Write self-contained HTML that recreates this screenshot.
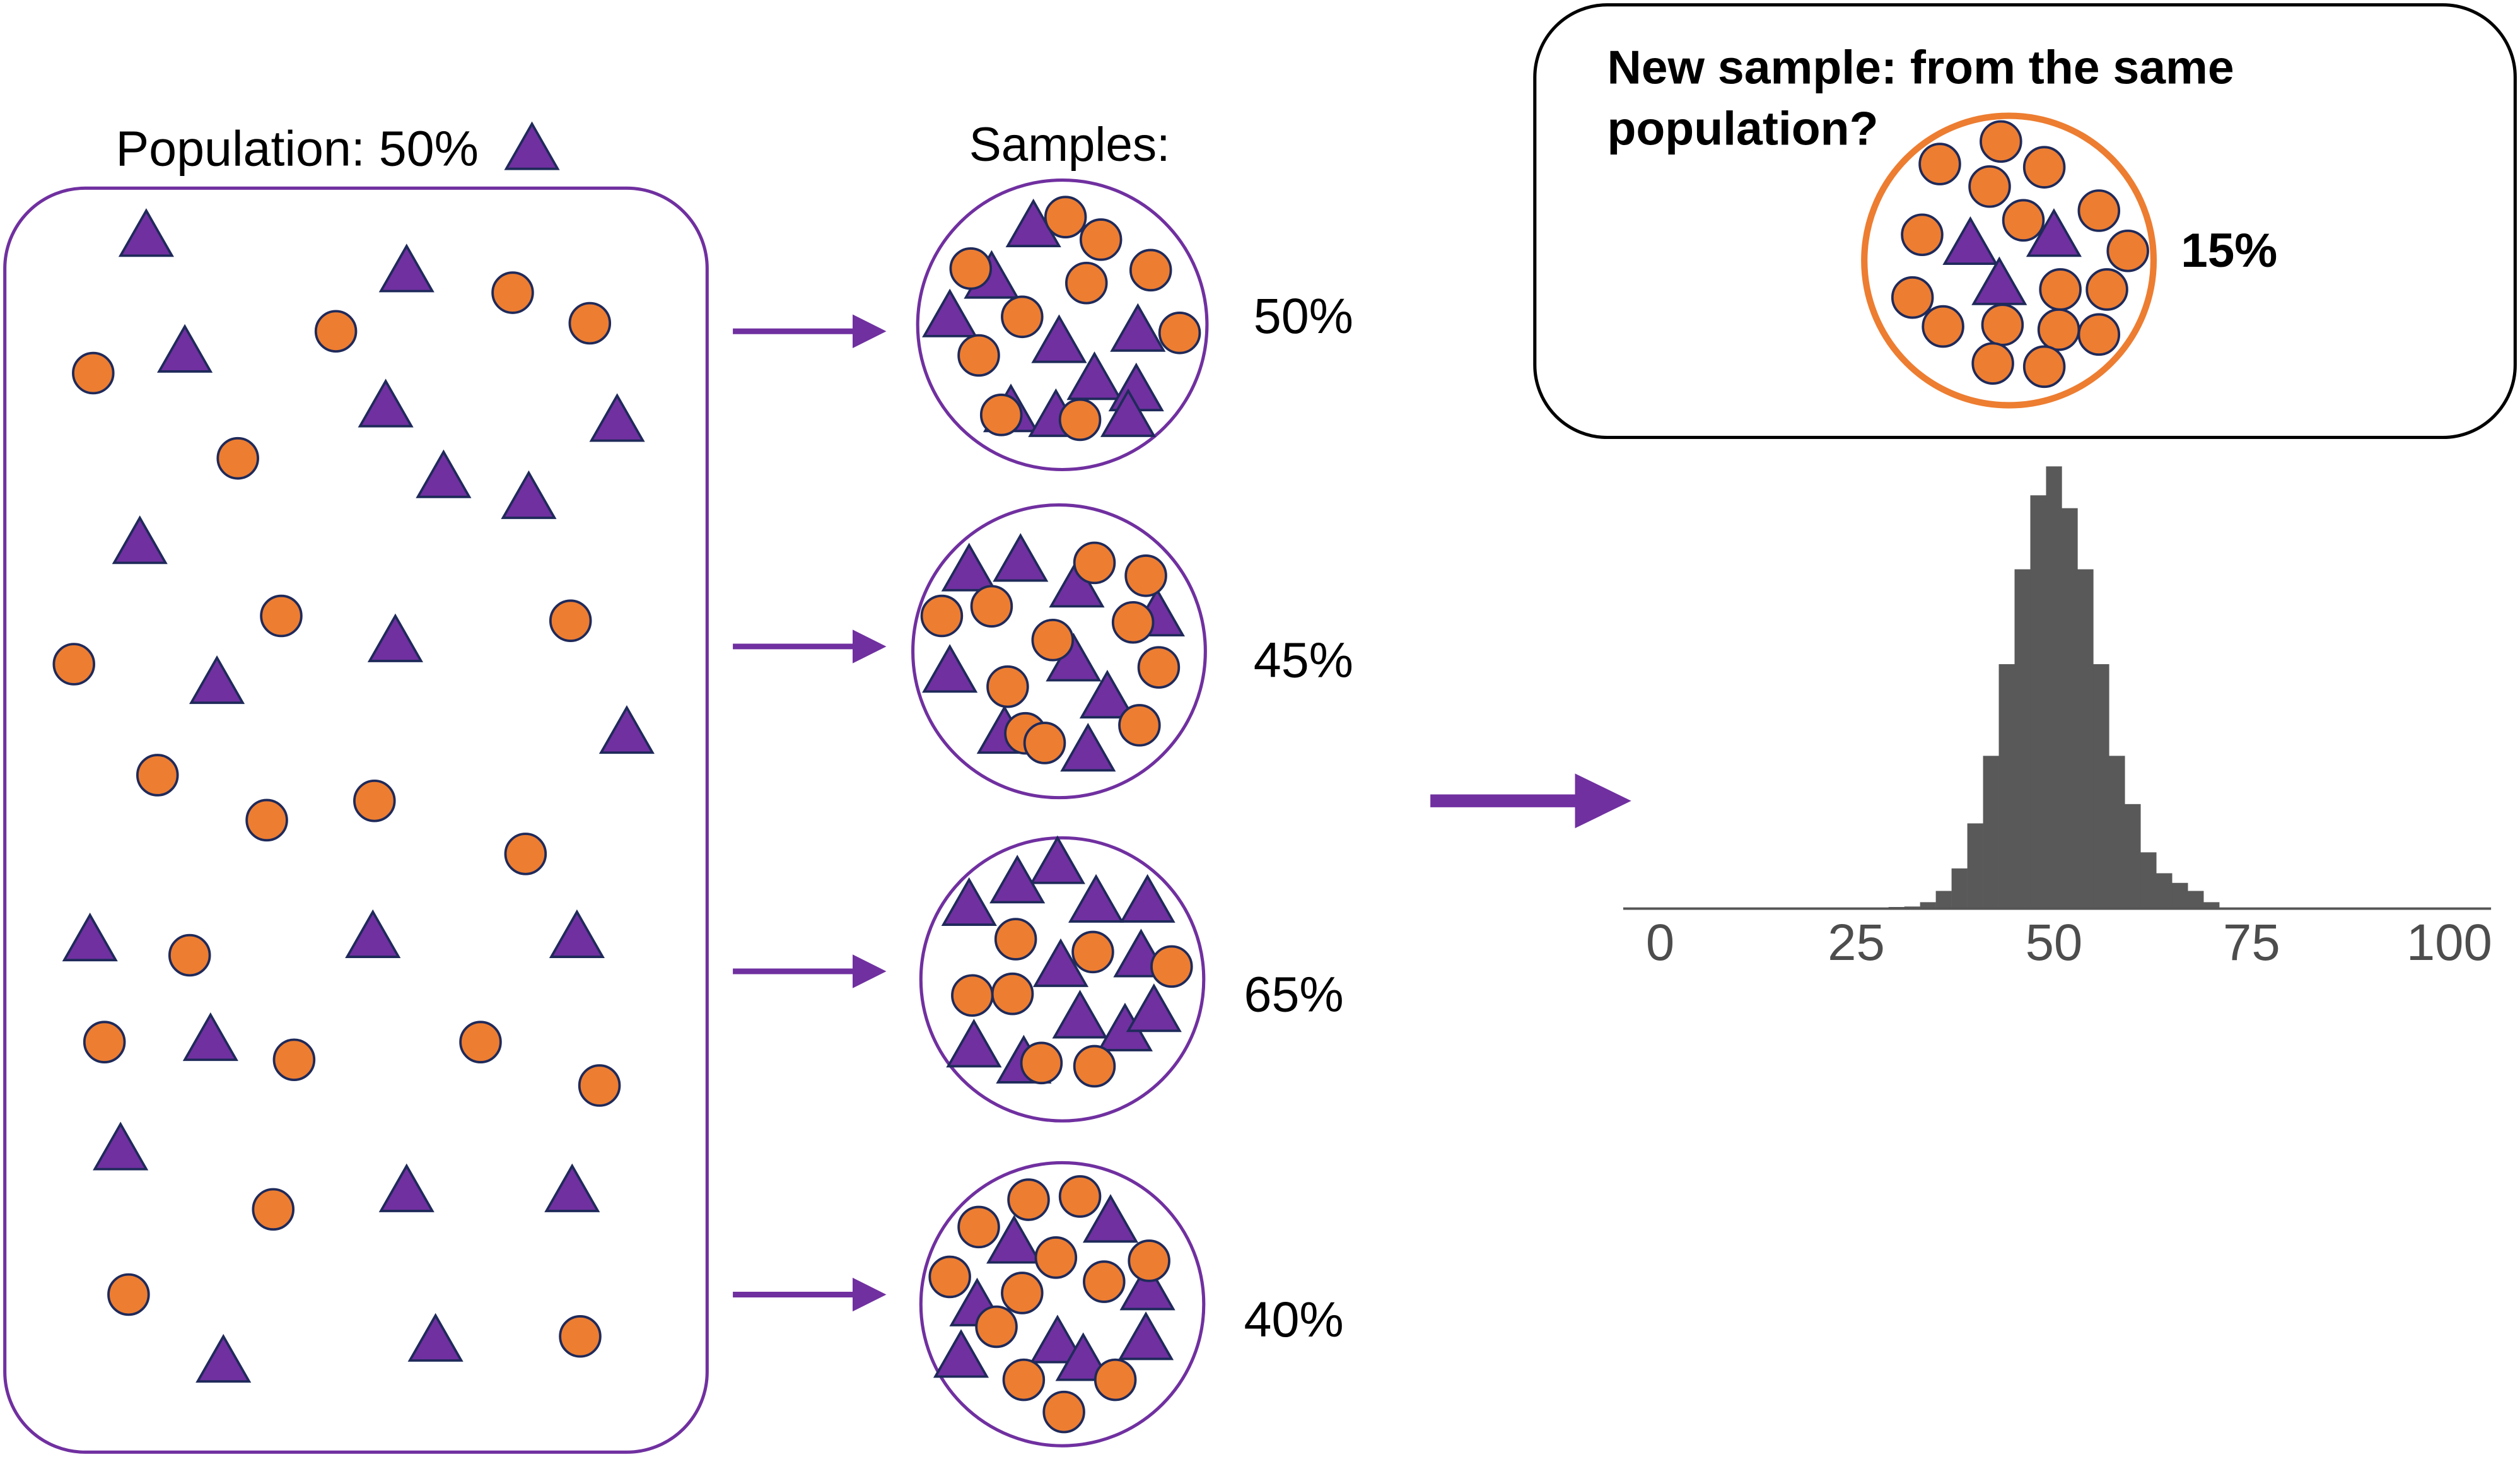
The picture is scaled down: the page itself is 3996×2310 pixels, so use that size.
<!DOCTYPE html>
<html><head><meta charset="utf-8"><style>html,body{margin:0;padding:0;background:#fff}svg{display:block}</style></head>
<body>
<svg xmlns="http://www.w3.org/2000/svg" xmlns:xlink="http://www.w3.org/1999/xlink" width="3996" height="2310" viewBox="0 0 1568 906" preserveAspectRatio="none">
<defs>
<g id="c"><circle r="12.5" fill="#ed7d31" stroke="#1f2a5a" stroke-width="1.5"/></g>
<g id="t"><polygon points="0,-15 16,13 -16,13" fill="#7030a0" stroke="#1f2a5a" stroke-width="1.5"/></g>
<marker id="ah" markerWidth="6" markerHeight="6" refX="5" refY="3" orient="auto" markerUnits="strokeWidth"><path d="M0,0 L6,3 L0,6z" fill="#7030a0"/></marker>
</defs>
<g font-family="Liberation Sans, sans-serif">
<text x="72" y="103" font-size="31">Population: 50%</text>
<use xlink:href="#t" x="331" y="92"/>
<rect x="3" y="117" width="437" height="786" rx="50" fill="none" stroke="#7030a0" stroke-width="2"/>
<g>
<use xlink:href="#t" x="91" y="146"/><use xlink:href="#t" x="253" y="168"/><use xlink:href="#t" x="115" y="218"/><use xlink:href="#t" x="240" y="252"/><use xlink:href="#t" x="384" y="261"/><use xlink:href="#t" x="276" y="296"/><use xlink:href="#t" x="329" y="309"/><use xlink:href="#t" x="87" y="337"/><use xlink:href="#t" x="246" y="398"/><use xlink:href="#t" x="135" y="424"/><use xlink:href="#t" x="390" y="455"/><use xlink:href="#t" x="56" y="584"/><use xlink:href="#t" x="232" y="582"/><use xlink:href="#t" x="359" y="582"/><use xlink:href="#t" x="131" y="646"/><use xlink:href="#t" x="75" y="714"/><use xlink:href="#t" x="253" y="740"/><use xlink:href="#t" x="356" y="740"/><use xlink:href="#t" x="139" y="846"/><use xlink:href="#t" x="271" y="833"/>
<use xlink:href="#c" x="319" y="182"/><use xlink:href="#c" x="209" y="206"/><use xlink:href="#c" x="367" y="201"/><use xlink:href="#c" x="58" y="232"/><use xlink:href="#c" x="148" y="285"/><use xlink:href="#c" x="175" y="383"/><use xlink:href="#c" x="355" y="386"/><use xlink:href="#c" x="46" y="413"/><use xlink:href="#c" x="98" y="482"/><use xlink:href="#c" x="166" y="510"/><use xlink:href="#c" x="233" y="498"/><use xlink:href="#c" x="327" y="531"/><use xlink:href="#c" x="118" y="594"/><use xlink:href="#c" x="65" y="648"/><use xlink:href="#c" x="183" y="659"/><use xlink:href="#c" x="299" y="648"/><use xlink:href="#c" x="373" y="675"/><use xlink:href="#c" x="170" y="752"/><use xlink:href="#c" x="80" y="805"/><use xlink:href="#c" x="361" y="831"/>
</g>
<g stroke="#7030a0" fill="none">
<line x1="456" y1="206" x2="548" y2="206" marker-end="url(#ah)" stroke-width="3.5"/>
<line x1="456" y1="402" x2="548" y2="402" marker-end="url(#ah)" stroke-width="3.5"/>
<line x1="456" y1="604" x2="548" y2="604" marker-end="url(#ah)" stroke-width="3.5"/>
<line x1="456" y1="805" x2="548" y2="805" marker-end="url(#ah)" stroke-width="3.5"/>
</g>
<line x1="890" y1="498" x2="985" y2="498" stroke="#7030a0" stroke-width="8"/>
<polygon points="980,481 1015,498 980,515" fill="#7030a0"/>
<text x="603" y="100" font-size="30">Samples:</text>
<circle cx="661" cy="202" r="90" fill="none" stroke="#7030a0" stroke-width="2"/>
<circle cx="659" cy="405" r="91" fill="none" stroke="#7030a0" stroke-width="2"/>
<circle cx="661" cy="609" r="88" fill="none" stroke="#7030a0" stroke-width="2"/>
<circle cx="661" cy="811" r="88" fill="none" stroke="#7030a0" stroke-width="2"/>
<text x="780" y="207" font-size="31">50%</text>
<text x="780" y="421" font-size="31">45%</text>
<text x="774" y="629" font-size="31">65%</text>
<text x="774" y="831" font-size="31">40%</text>
<g>
<use xlink:href="#t" x="643" y="140"/><use xlink:href="#t" x="591" y="196"/><use xlink:href="#t" x="617" y="172"/><use xlink:href="#t" x="659" y="212"/><use xlink:href="#t" x="708" y="205"/><use xlink:href="#t" x="681" y="235"/><use xlink:href="#t" x="707" y="242"/><use xlink:href="#t" x="629" y="255"/><use xlink:href="#t" x="657" y="258"/><use xlink:href="#t" x="702" y="258"/>
<use xlink:href="#c" x="663" y="135"/><use xlink:href="#c" x="685" y="149"/><use xlink:href="#c" x="604" y="167"/><use xlink:href="#c" x="716" y="168"/><use xlink:href="#c" x="676" y="176"/><use xlink:href="#c" x="636" y="197"/><use xlink:href="#c" x="734" y="207"/><use xlink:href="#c" x="609" y="221"/><use xlink:href="#c" x="623" y="258"/><use xlink:href="#c" x="672" y="261"/>
<use xlink:href="#t" x="603" y="354"/><use xlink:href="#t" x="635" y="348"/><use xlink:href="#t" x="670" y="364"/><use xlink:href="#t" x="720" y="382"/><use xlink:href="#t" x="591" y="417"/><use xlink:href="#t" x="668" y="410"/><use xlink:href="#t" x="689" y="433"/><use xlink:href="#t" x="625" y="455"/><use xlink:href="#t" x="677" y="466"/>
<use xlink:href="#c" x="681" y="350"/><use xlink:href="#c" x="713" y="358"/><use xlink:href="#c" x="586" y="383"/><use xlink:href="#c" x="617" y="377"/><use xlink:href="#c" x="705" y="387"/><use xlink:href="#c" x="655" y="398"/><use xlink:href="#c" x="721" y="415"/><use xlink:href="#c" x="627" y="427"/><use xlink:href="#c" x="709" y="451"/><use xlink:href="#c" x="638" y="456"/><use xlink:href="#c" x="650" y="462"/>
<use xlink:href="#t" x="658" y="536"/><use xlink:href="#t" x="603" y="562"/><use xlink:href="#t" x="633" y="548"/><use xlink:href="#t" x="682" y="560"/><use xlink:href="#t" x="714" y="560"/><use xlink:href="#t" x="660" y="600"/><use xlink:href="#t" x="710" y="594"/><use xlink:href="#t" x="606" y="650"/><use xlink:href="#t" x="672" y="632"/><use xlink:href="#t" x="700" y="640"/><use xlink:href="#t" x="718" y="628"/><use xlink:href="#t" x="637" y="660"/>
<use xlink:href="#c" x="632" y="584"/><use xlink:href="#c" x="680" y="592"/><use xlink:href="#c" x="729" y="601"/><use xlink:href="#c" x="605" y="619"/><use xlink:href="#c" x="630" y="618"/><use xlink:href="#c" x="648" y="661"/><use xlink:href="#c" x="681" y="663"/>
<use xlink:href="#t" x="691" y="759"/><use xlink:href="#t" x="631" y="772"/><use xlink:href="#t" x="714" y="801"/><use xlink:href="#t" x="608" y="811"/><use xlink:href="#t" x="713" y="832"/><use xlink:href="#t" x="598" y="843"/><use xlink:href="#t" x="658" y="834"/><use xlink:href="#t" x="674" y="845"/>
<use xlink:href="#c" x="640" y="746"/><use xlink:href="#c" x="672" y="744"/><use xlink:href="#c" x="609" y="763"/><use xlink:href="#c" x="657" y="782"/><use xlink:href="#c" x="715" y="784"/><use xlink:href="#c" x="591" y="794"/><use xlink:href="#c" x="687" y="797"/><use xlink:href="#c" x="636" y="804"/><use xlink:href="#c" x="620" y="825"/><use xlink:href="#c" x="637" y="858"/><use xlink:href="#c" x="694" y="858"/><use xlink:href="#c" x="662" y="878"/>
</g>
<rect x="955" y="3" width="610" height="269" rx="45" fill="none" stroke="#000" stroke-width="2"/>
<text x="1000" y="52" font-size="29.5" font-weight="bold">New sample: from the same</text>
<text x="1000" y="90" font-size="29.5" font-weight="bold">population?</text>
<circle cx="1250" cy="162" r="90" fill="none" stroke="#ed7d31" stroke-width="4"/>
<text x="1357" y="166" font-size="30" font-weight="bold">15%</text>
<g>
<use xlink:href="#c" x="1245" y="88"/><use xlink:href="#c" x="1207" y="102"/><use xlink:href="#c" x="1272" y="104"/><use xlink:href="#c" x="1238" y="116"/><use xlink:href="#c" x="1306" y="131"/><use xlink:href="#c" x="1259" y="137"/><use xlink:href="#c" x="1196" y="146"/><use xlink:href="#c" x="1324" y="156"/><use xlink:href="#c" x="1311" y="180"/><use xlink:href="#c" x="1190" y="185"/><use xlink:href="#c" x="1282" y="180"/><use xlink:href="#c" x="1209" y="203"/><use xlink:href="#c" x="1246" y="202"/><use xlink:href="#c" x="1281" y="205"/><use xlink:href="#c" x="1306" y="208"/><use xlink:href="#c" x="1240" y="226"/><use xlink:href="#c" x="1272" y="228"/>
<use xlink:href="#t" x="1226" y="151"/><use xlink:href="#t" x="1278" y="146"/><use xlink:href="#t" x="1244" y="176"/>
</g>
<g fill="#595959">
<rect x="1175.1" y="564" width="9.9" height="1"/>
<rect x="1184.9" y="563.7" width="9.9" height="1.3"/>
<rect x="1194.7" y="561" width="9.9" height="4"/>
<rect x="1204.5" y="554" width="9.9" height="11"/>
<rect x="1214.3" y="540" width="9.9" height="25"/>
<rect x="1224.1" y="512" width="9.9" height="53"/>
<rect x="1233.9" y="470" width="9.9" height="95"/>
<rect x="1243.7" y="413" width="9.9" height="152"/>
<rect x="1253.5" y="354" width="9.9" height="211"/>
<rect x="1263.3" y="308" width="9.9" height="257"/>
<rect x="1273.1" y="290" width="9.9" height="275"/>
<rect x="1282.9" y="316" width="9.9" height="249"/>
<rect x="1292.7" y="354" width="9.9" height="211"/>
<rect x="1302.5" y="413" width="9.9" height="152"/>
<rect x="1312.3" y="470" width="9.9" height="95"/>
<rect x="1322.1" y="500" width="9.9" height="65"/>
<rect x="1331.9" y="530" width="9.9" height="35"/>
<rect x="1341.7" y="543" width="9.9" height="22"/>
<rect x="1351.5" y="549" width="9.9" height="16"/>
<rect x="1361.3" y="554" width="9.9" height="11"/>
<rect x="1371.1" y="561" width="9.9" height="4"/>
</g>
<line x1="1010" y1="565" x2="1550" y2="565" stroke="#555" stroke-width="1.5"/>
<g font-size="32" fill="#4d4d4d" text-anchor="middle">
<text x="1033" y="597">0</text><text x="1155" y="597">25</text><text x="1278" y="597">50</text><text x="1401" y="597">75</text><text x="1524" y="597">100</text>
</g>
</g>
</svg>
</body></html>
